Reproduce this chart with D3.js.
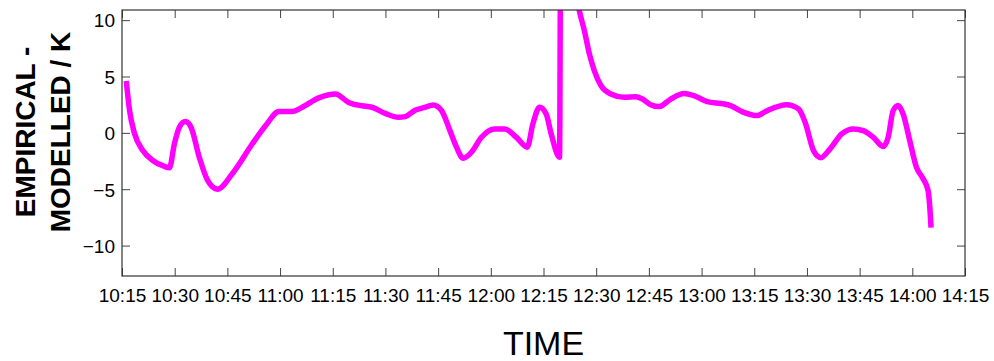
<!DOCTYPE html>
<html>
<head>
<meta charset="utf-8">
<script src="https://cdn.jsdelivr.net/npm/d3@7"></script>
<style>
  html, body { margin: 0; padding: 0; background: #fff; }
  svg { display: block; }
  text { font-family: "Liberation Sans", Arial, Helvetica, sans-serif; fill: #000; }
</style>
</head>
<body>
<svg id="chart" width="994" height="361"></svg>
<script>
// Temperature difference (empirical minus modelled) over the afternoon run
const times = [
  "10:16:13","10:17:09","10:18:34","10:20:56","10:23:46","10:27:05","10:28:30","10:29:55",
  "10:31:20","10:33:02","10:34:39","10:37:00","10:39:21","10:42:11","10:46:27","10:52:07",
  "10:55:55","10:59:41","11:03:28","11:06:18","11:11:02","11:15:46","11:19:32","11:23:18",
  "11:26:09","11:29:56","11:33:43","11:35:37","11:38:27","11:41:17","11:43:38","11:45:59",
  "11:48:22","11:50:14","11:52:08","11:54:30","11:57:20","12:01:08","12:03:58","12:07:16",
  "12:10:23","12:11:59","12:13:53","12:15:46","12:17:11","12:19:34","12:19:56","12:21:30",
  "12:23:40","12:25:14","12:26:39","12:28:04","12:29:29","12:31:22","12:34:11","12:37:59",
  "12:41:17","12:43:11","12:45:32","12:47:55","12:51:13","12:55:01","12:57:50","13:01:37",
  "13:06:21","13:08:13","13:12:01","13:15:47","13:18:38","13:24:18","13:27:37","13:29:29",
  "13:31:52","13:33:56","13:36:35","13:39:54","13:43:13","13:46:03","13:48:53","13:51:43",
  "13:53:08","13:54:33","13:55:58","13:57:23","13:59:16","14:01:10","14:03:04","14:04:29",
  "14:04:56","14:05:20"
];
const diffK = [
  4.6, 2.0, -0.06, -1.57, -2.45, -2.98, -3.1, -0.97,
  0.5, 1.0, 0.5, -2.16, -4.2, -5.0, -3.6, -0.97,
  0.65, 1.9, 1.9, 2.27, 3.1, 3.45, 2.7, 2.4,
  2.27, 1.73, 1.38, 1.44, 2.0, 2.27, 2.48, 1.97,
  0.2, -1.27, -2.25, -1.72, -0.39, 0.35, 0.35, -0.39,
  -1.27, 0.8, 2.27, 1.68, -0.09, -2.16, 20.0, 20.0,
  13.5, 10.8, 9.05, 7.0, 5.5, 4.19, 3.45, 3.15,
  3.21, 3.0, 2.5, 2.33, 3.0, 3.5, 3.3, 2.77,
  2.57, 2.42, 1.82, 1.53, 1.97, 2.5, 2.12, 0.94,
  -1.57, -2.2, -1.42, -0.09, 0.35, 0.2, -0.39, -1.21,
  -0.39, 1.97, 2.42, 1.68, -0.68, -3.04, -4.07, -5.1,
  -6.4, -8.4
];
const xTickLabels = ["10:15","10:30","10:45","11:00","11:15","11:30","11:45","12:00",
  "12:15","12:30","12:45","13:00","13:15","13:30","13:45","14:00","14:15"];
const yTickValues = [-10, -5, 0, 5, 10];
const yDomain = [-12.7, 10.9];
const xTitle = "TIME";
const yTitleLines = ["EMPIRICAL -", "MODELLED / K"];

const parse = d3.timeParse("%H:%M:%S");
const parseHM = d3.timeParse("%H:%M");
const fmt = d3.timeFormat("%H:%M");

const margin = { left: 122, top: 10, right: 29, bottom: 85 };
const W = 994, H = 361;
const iw = W - margin.left - margin.right;
const ih = H - margin.top - margin.bottom;

const svg = d3.select("#chart");
const g = svg.append("g").attr("transform", `translate(${margin.left},${margin.top})`);

const xTicks = xTickLabels.map(parseHM);
const x = d3.scaleTime().domain([xTicks[0], xTicks[xTicks.length - 1]]).range([0, iw]);
const y = d3.scaleLinear().domain(yDomain).range([ih, 0]);

const data = times.map((t, i) => ({ t: parse(t), v: diffK[i] }));

// plot clip
svg.append("defs").append("clipPath").attr("id", "plotClip")
  .append("rect").attr("width", iw).attr("height", ih);

// line
const line = d3.line().x(d => x(d.t)).y(d => y(d.v)).curve(d3.curveMonotoneX);
g.append("path").datum(data)
  .attr("clip-path", "url(#plotClip)")
  .attr("fill", "none")
  .attr("stroke", "#ff00ff")
  .attr("stroke-width", 5.5)
  .attr("stroke-linejoin", "round")
  .attr("d", line);

// axes: ticks pointing inward on all four sides
const tickColor = "#444";
const styleAxis = sel => {
  sel.select(".domain").remove();
  sel.selectAll(".tick line").attr("stroke", tickColor).attr("stroke-width", 1);
};

const xBottom = g.append("g").attr("transform", `translate(0,${ih})`)
  .call(d3.axisBottom(x).tickValues(xTicks).tickFormat(fmt).tickSizeInner(-8).tickSizeOuter(0).tickPadding(0));
styleAxis(xBottom);
xBottom.selectAll(".tick text")
  .attr("y", 26).attr("dy", 0)
  .attr("font-size", 19).attr("fill", "#000");

const xTop = g.append("g")
  .call(d3.axisTop(x).tickValues(xTicks).tickFormat("").tickSizeInner(-8).tickSizeOuter(0));
styleAxis(xTop);

const yLeft = g.append("g")
  .call(d3.axisLeft(y).tickValues(yTickValues).tickFormat(d3.format("d")).tickSizeInner(-8).tickSizeOuter(0).tickPadding(0));
styleAxis(yLeft);
yLeft.selectAll(".tick text")
  .attr("x", -7).attr("dy", "0.36em")
  .attr("font-size", 19).attr("fill", "#000");

const yRight = g.append("g").attr("transform", `translate(${iw},0)`)
  .call(d3.axisRight(y).tickValues(yTickValues).tickFormat("").tickSizeInner(-8).tickSizeOuter(0));
styleAxis(yRight);

// frame
g.append("rect")
  .attr("width", iw).attr("height", ih)
  .attr("fill", "none").attr("stroke", "#333").attr("stroke-width", 1.2);

// titles
svg.append("text")
  .attr("x", margin.left + iw / 2).attr("y", 355)
  .attr("text-anchor", "middle")
  .attr("font-size", 34)
  .text(xTitle);

const yt = svg.append("text")
  .attr("transform", "translate(35,132) rotate(-90)")
  .attr("text-anchor", "middle")
  .attr("font-size", 28)
  .attr("font-weight", "bold");
yTitleLines.forEach((s, i) => {
  yt.append("tspan").attr("x", 0).attr("dy", i === 0 ? 0 : 35).text(s);
});
</script>
</body>
</html>
